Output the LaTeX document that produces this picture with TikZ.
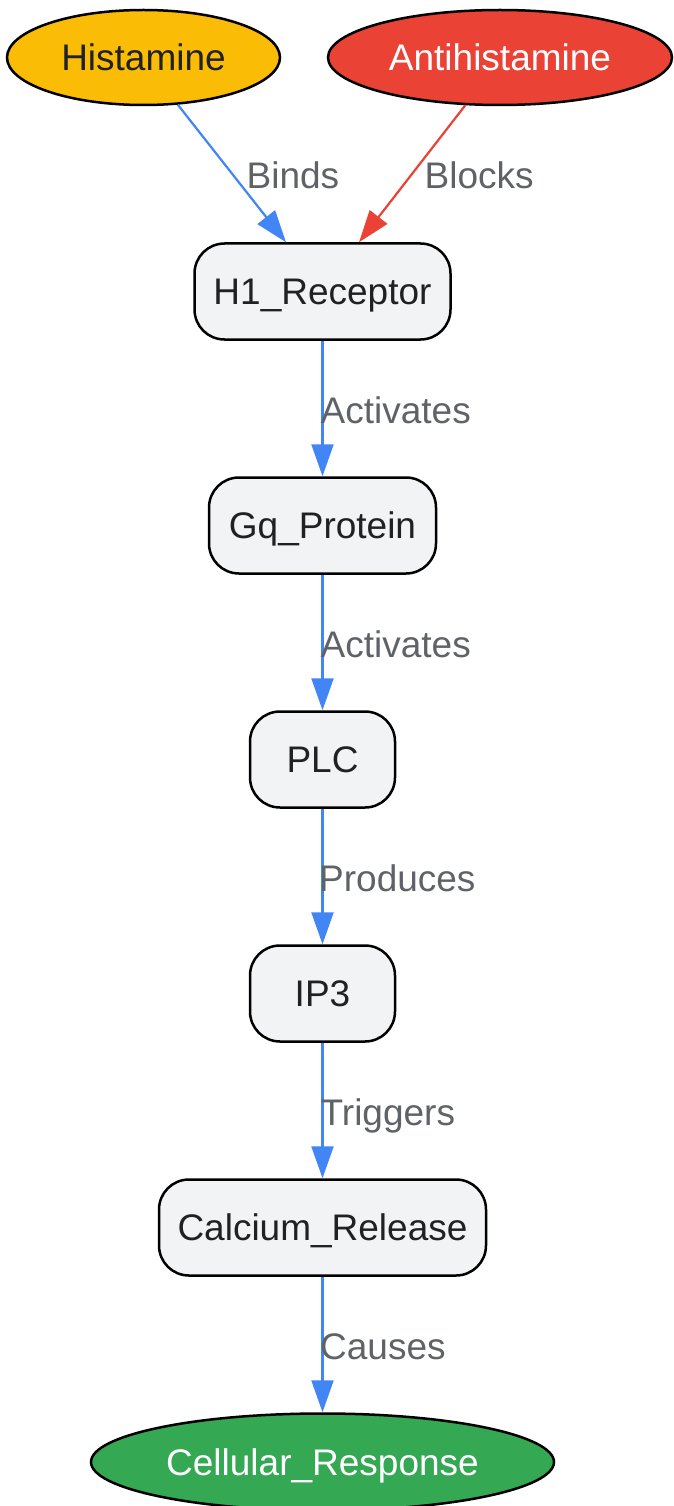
\documentclass[tikz,border=0pt]{standalone}
\usepackage{fontspec}
\setmainfont{Liberation Sans}
\usetikzlibrary{shapes.geometric,arrows.meta}
\definecolor{cyellow}{HTML}{FBBC05}
\definecolor{cred}{HTML}{EA4335}
\definecolor{cgreen}{HTML}{34A853}
\definecolor{cblue}{HTML}{4285F4}
\definecolor{cgrayfill}{HTML}{F1F3F4}
\definecolor{ctext}{HTML}{202124}
\definecolor{clabel}{HTML}{5F6368}
\begin{document}
\begin{tikzpicture}[x=1pt,y=-1pt,
  basetext/.style={font=\fontsize{37}{44}\selectfont, text height=33.3pt, text depth=6.7pt, inner sep=0pt},
  procbox/.style={basetext, draw=black, line width=2.5pt, fill=cgrayfill, text=ctext,
    rounded corners=30pt, minimum height=96pt},
  ovalnode/.style={basetext, ellipse, draw=black, line width=2.5pt},
  edgeline/.style={line width=2.2pt, draw=cblue, -{Triangle[length=32pt,width=22pt]}},
  edgelabel/.style={font=\fontsize{37}{44}\selectfont, inner sep=0pt, text=clabel, anchor=base west}
]
\useasboundingbox[fill=white] (0,0) rectangle (673,1506);

% nodes
\node[ovalnode, fill=cyellow, text=ctext, minimum width=273pt, minimum height=95pt] (hist) at (143.5,57.5) {Histamine};
\node[ovalnode, fill=cred, text=white, minimum width=344pt, minimum height=95pt] (anti) at (500,57.5) {Antihistamine};
\node[procbox, minimum width=256pt] (h1) at (322.5,291.5) {H1\_Receptor};
\node[procbox, minimum width=227pt] (gq) at (322.5,525.5) {Gq\_Protein};
\node[procbox, minimum width=145pt] (plc) at (322.5,759.5) {PLC};
\node[procbox, minimum width=145pt] (ip3) at (322.5,993.5) {IP3};
\node[procbox, minimum width=327pt] (ca) at (322.5,1227.5) {Calcium\_Release};
\node[ovalnode, fill=cgreen, text=white, minimum width=463pt, minimum height=97pt] (resp) at (322.5,1462) {Cellular\_Response};

% connectors
\draw[edgeline] (hist.306) -- ([xshift=-36.5pt]h1.north);
\draw[edgeline, draw=cred] (anti.234) -- ([xshift=36.5pt]h1.north);
\draw[edgeline] (h1.south) -- (gq.north);
\draw[edgeline] (gq.south) -- (plc.north);
\draw[edgeline] (plc.south) -- (ip3.north);
\draw[edgeline] (ip3.south) -- (ca.north);
\draw[edgeline] (ca.south) -- (resp.north);

% labels
\node[edgelabel] (lbinds) at (246.5,188.3) {Binds};
\node[edgelabel] (lblocks) at (424.5,188.3) {Blocks};
\node[edgelabel] (lact1) at (320.5,423.3) {Activates};
\node[edgelabel] (lact2) at (320.5,657.3) {Activates};
\node[edgelabel] (lprod) at (319,891.3) {Produces};
\node[edgelabel] (ltrig) at (320.5,1125.3) {Triggers};
\node[edgelabel] (lcause) at (320,1359.3) {Causes};
\end{tikzpicture}
\end{document}
